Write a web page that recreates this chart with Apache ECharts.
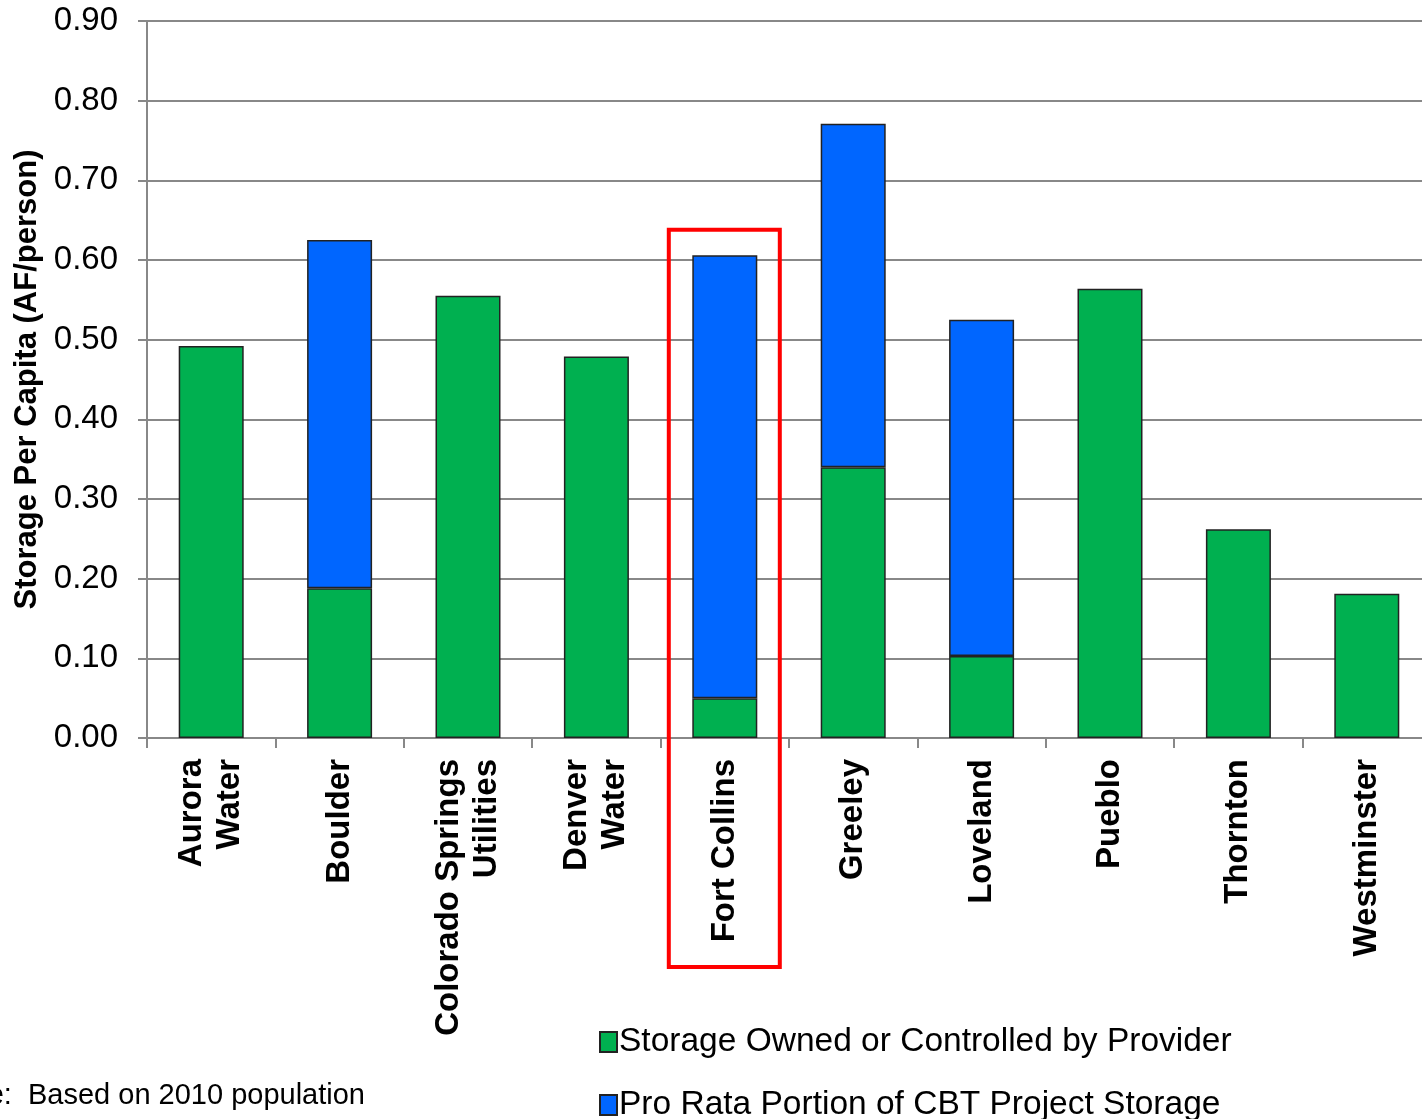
<!DOCTYPE html>
<html>
<head>
<meta charset="utf-8">
<script src="https://cdn.jsdelivr.net/npm/echarts@6/dist/echarts.min.js"></script>
<style>
html,body{margin:0;padding:0;background:#fff;}
#chart{width:1422px;height:1119px;}
</style>
</head>
<body>
<div id="chart"></div>
<script>
const categories = ['Aurora\nWater','Boulder','Colorado Springs\nUtilities','Denver\nWater','Fort Collins','Greeley','Loveland','Pueblo','Thornton','Westminster'];
const ownedStorage = [0.492, 0.188, 0.555, 0.479, 0.050, 0.340, 0.103, 0.564, 0.262, 0.181];
const cbtStorage = [0, 0.437, 0, 0, 0.556, 0.431, 0.422, 0, 0, 0];
const yTicks = [0, 0.1, 0.2, 0.3, 0.4, 0.5, 0.6, 0.7, 0.8, 0.9];
const highlightCategory = 'Fort Collins';
const seriesNames = ['Storage Owned or Controlled by Provider', 'Pro Rata Portion of CBT Project Storage'];

const chart = echarts.init(document.getElementById('chart'));
const FONT = '"Liberation Sans", Arial, sans-serif';

const legendCommon = {
  orient: 'horizontal',
  left: 594,
  itemWidth: 17,
  itemHeight: 20,
  icon: 'rect',
  textStyle: { fontSize: 33.5, color: '#000', fontFamily: FONT, padding: [0, 0, 0, -3] }
};

chart.setOption({
  animation: false,
  backgroundColor: '#fff',
  textStyle: { fontFamily: FONT },
  grid: { left: 147, right: -9, top: 21, bottom: 381, containLabel: false, outerBoundsMode: 'none' },
  legend: [
    Object.assign({}, legendCommon, { top: 1020, data: [seriesNames[0]] }),
    Object.assign({}, legendCommon, { top: 1083, data: [seriesNames[1]] })
  ],
  xAxis: {
    type: 'category',
    data: categories,
    axisLine: { lineStyle: { color: '#888', width: 2 } },
    axisTick: { show: true, length: 10, alignWithLabel: false, lineStyle: { color: '#888', width: 2 } },
    axisLabel: {
      rotate: 90,
      interval: 0,
      fontSize: 33,
      fontWeight: 'bold',
      color: '#000',
      lineHeight: 38,
      margin: 21,
      align: 'right',
      verticalAlign: 'middle',
      fontFamily: FONT
    }
  },
  yAxis: {
    type: 'value',
    min: 0,
    max: 0.9,
    interval: 0.1,
    name: 'Storage Per Capita (AF/person)',
    nameLocation: 'middle',
    nameGap: 101,
    nameTextStyle: { fontSize: 31, fontWeight: 'bold', color: '#000', fontFamily: FONT },
    axisLine: { show: true, lineStyle: { color: '#888', width: 2 } },
    axisTick: { show: true, length: 9, lineStyle: { color: '#888', width: 2 } },
    axisLabel: {
      fontSize: 33,
      color: '#000',
      margin: 29,
      fontFamily: FONT,
      formatter: v => {
        const t = yTicks.find(x => Math.abs(x - v) < 1e-6);
        return (t !== undefined ? t : v).toFixed(2);
      }
    },
    splitLine: { show: true, lineStyle: { color: '#888', width: 2 } }
  },
  series: [
    {
      name: seriesNames[0],
      type: 'bar',
      stack: 'total',
      barWidth: 65,
      data: ownedStorage,
      itemStyle: { color: '#00B050', borderColor: '#222', borderWidth: 1.5 }
    },
    {
      name: seriesNames[1],
      type: 'bar',
      stack: 'total',
      barWidth: 65,
      data: cbtStorage.map(v => v === 0 ? null : v),
      itemStyle: { color: '#0066FF', borderColor: '#222', borderWidth: 1.5 }
    }
  ]
});

// Highlight box around chosen category and note text
const idx = categories.indexOf(highlightCategory);
const cx = chart.convertToPixel({ xAxisIndex: 0 }, idx);
const topY = chart.convertToPixel({ yAxisIndex: 0 }, 0.638);
chart.setOption({
  graphic: [
    {
      type: 'rect',
      shape: { x: cx - 56, y: topY, width: 111, height: 967 - topY },
      style: { fill: 'none', stroke: '#FF0000', lineWidth: 4 },
      z: 100
    },
    {
      type: 'text',
      x: 365,
      y: 1096,
      style: { text: 'Note:  Based on 2010 population', font: '29px ' + FONT, fill: '#000', textAlign: 'right', textVerticalAlign: 'middle' }
    }
  ]
});
</script>
</body>
</html>
